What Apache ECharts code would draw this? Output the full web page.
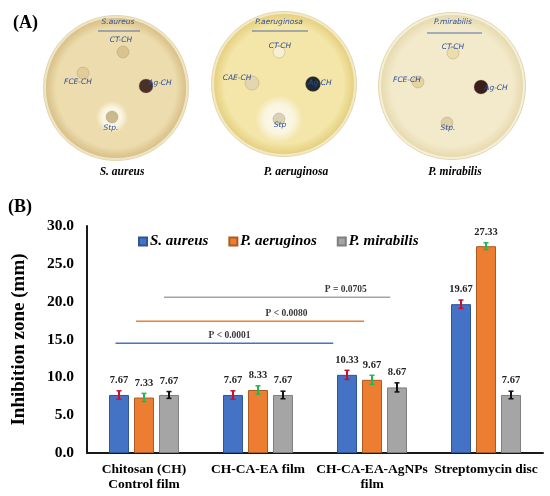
<!DOCTYPE html>
<html>
<head>
<meta charset="utf-8">
<script src="https://cdn.jsdelivr.net/npm/echarts@6.0.0/dist/echarts.min.js"></script>
<style>body{margin:0;background:#fff;}</style>
</head>
<body>
<div id="main" style="width:550px;height:496px;"></div>
<script type="text/javascript">

// ---- data ----
var categories = ['Chitosan (CH)\nControl film', 'CH-CA-EA film', 'CH-CA-EA-AgNPs\nfilm', 'Streptomycin disc'];
var seriesNames = ['S. aureus', 'P. aeruginos', 'P. mirabilis'];
var saureus = [7.67, 7.67, 10.33, 19.67];
var paeruginos = [7.33, 8.33, 9.67, 27.33];
var pmirabilis = [7.67, 7.67, 8.67, 7.67];
var saureusErr = [0.55, 0.55, 0.6, 0.55];
var paeruginosErr = [0.55, 0.55, 0.6, 0.45];
var pmirabilisErr = [0.45, 0.5, 0.6, 0.5];

// significance bars (x on a 0..4 scale across the categories, y in mm)
var sigLabels = ['P < 0.0001', 'P < 0.0080', 'P = 0.0705'];
var sigStart = [0.25, 0.43, 0.675];
var sigEnd = [2.16, 2.43, 2.66];
var sigLevel = [14.5, 17.4, 20.6];
var sigTextAt = [1.25, 1.75, 2.27];

var dishNames = ['S. aureus', 'P. aeruginosa', 'P. mirabilis'];

var serif = '"Liberation Serif", "Times New Roman", serif';
var colors = ['#4472C4', '#ED7D31', '#A5A5A5'];
var borders = ['#2F5597', '#AE5A21', '#7F7F7F'];
var errColors = ['#C8102E', '#1DB954', '#111111'];
var sigColors = ['#4472C4', '#ED7D31', '#A5A5A5'];
var catGap = 0.386, barGap = 0.25;

function errorSeries(k, vals, errs) {
    return {
        type: 'custom',
        xAxisIndex: 0,
        yAxisIndex: 0,
        z: 5,
        silent: true,
        data: vals.map(function (v, i) { return [i, v, errs[i]]; }),
        renderItem: function (params, api) {
            var i = api.value(0), v = api.value(1), e = api.value(2);
            var band = api.size([1, 0])[0];
            var barW = band * (1 - catGap) / (3 + 2 * barGap);
            var off = (k - 1) * barW * (1 + barGap);
            var top = api.coord([i, v + e]);
            var bot = api.coord([i, v - e]);
            var x = top[0] + off;
            var c = errColors[k];
            return {
                type: 'group',
                children: [
                    {type: 'line', shape: {x1: x, y1: top[1], x2: x, y2: bot[1]}, style: {stroke: c, lineWidth: 2}},
                    {type: 'line', shape: {x1: x - 2.5, y1: top[1], x2: x + 2.5, y2: top[1]}, style: {stroke: c, lineWidth: 1.5}},
                    {type: 'line', shape: {x1: x - 2.5, y1: bot[1], x2: x + 2.5, y2: bot[1]}, style: {stroke: c, lineWidth: 1.5}},
                    {type: 'text', x: x, y: top[1] - 5, style: {
                        text: v.toFixed(2), align: 'center', verticalAlign: 'bottom',
                        font: 'bold 10.5px ' + serif, fill: '#222'}}
                ]
            };
        }
    };
}

function barSeries(k, vals) {
    return {
        name: seriesNames[k],
        type: 'bar',
        xAxisIndex: 0,
        yAxisIndex: 0,
        barGap: (barGap * 100) + '%',
        barCategoryGap: (catGap * 100) + '%',
        itemStyle: {color: colors[k], borderColor: borders[k], borderWidth: 1},
        data: vals
    };
}

// ---- panel (A): drawn petri dishes ----
var dishes = [
    {cx: 116, cy: 88, r: 71, c0: '#EDDDAE', c1: '#D9C088', rim: '#EFE4C4',
     wells: [[123, 52, 6, 'rgba(200,175,120,0.55)'], [83, 73, 6, 'rgba(215,190,130,0.5)'],
             [146, 86, 7, '#4B3027'], [112, 117, 6, 'rgba(190,170,120,0.8)']],
     halo: [112, 117, 16],
     notes: [['S.aureus', 118, 22], ['CT-CH', 121, 40], ['FCE-CH', 78, 82], ['Ag-CH', 160, 83], ['Stp.', 111, 128]],
     line: [98, 31, 140]},
    {cx: 284, cy: 84, r: 71, c0: '#F3E6A8', c1: '#E6D080', rim: '#F3EAC4',
     wells: [[279, 52, 6, 'rgba(245,240,215,0.9)'], [252, 83, 7, '#E4D6B0'],
             [313, 84, 7.5, '#1E2A2C'], [279, 119, 6, 'rgba(215,205,175,0.9)']],
     halo: [279, 119, 24],
     notes: [['P.aeruginosa', 279, 22], ['CT-CH', 280, 46], ['CAE-CH', 237, 78], ['Ag-CH', 320, 83], ['Stp', 280, 125]],
     line: [252, 31, 308]},
    {cx: 452, cy: 86, r: 72, c0: '#F3EACB', c1: '#E6DAAE', rim: '#F5EFDA',
     wells: [[453, 53, 6, 'rgba(235,220,170,0.9)'], [418, 82, 6, 'rgba(225,205,150,0.8)'],
             [481, 87, 7, '#3A1E1A'], [447, 123, 6, 'rgba(220,205,160,0.9)']],
     halo: null,
     notes: [['P.mirabilis', 453, 22], ['CT-CH', 453, 47], ['FCE-CH', 407, 80], ['Ag-CH', 496, 88], ['Stp.', 448, 128]],
     line: [427, 33, 482]}
];

var graphics = [];
dishes.forEach(function (d) {
    graphics.push({type: 'circle', shape: {cx: d.cx, cy: d.cy, r: d.r + 1.5}, style: {fill: d.rim, stroke: '#E3D6AE', lineWidth: 1}, z: 1});
    graphics.push({type: 'circle', shape: {cx: d.cx, cy: d.cy, r: d.r - 1},
        style: {fill: new echarts.graphic.RadialGradient(0.5, 0.5, 0.5, [
            {offset: 0, color: d.c0}, {offset: 0.85, color: d.c0}, {offset: 1, color: d.c1}])}, z: 2});
    if (d.halo) {
        graphics.push({type: 'circle', shape: {cx: d.halo[0], cy: d.halo[1], r: d.halo[2]},
            style: {fill: new echarts.graphic.RadialGradient(0.5, 0.5, 0.5, [
                {offset: 0, color: 'rgba(252,250,238,1)'}, {offset: 0.6, color: 'rgba(250,246,228,0.95)'},
                {offset: 1, color: 'rgba(250,246,228,0)'}])}, z: 3});
    }
    d.wells.forEach(function (w) {
        graphics.push({type: 'circle', shape: {cx: w[0], cy: w[1], r: w[2]},
            style: {fill: w[3], stroke: 'rgba(150,120,80,0.35)', lineWidth: 0.8}, z: 4});
    });
    d.notes.forEach(function (n) {
        graphics.push({type: 'text', x: n[1], y: n[2], z: 5,
            style: {text: n[0], align: 'center', verticalAlign: 'middle',
                font: 'italic 7.5px "DejaVu Sans", sans-serif', fill: '#2E4F9E'}});
    });
    graphics.push({type: 'line', shape: {x1: d.line[0], y1: d.line[1], x2: d.line[2], y2: d.line[1]},
        style: {stroke: '#2E4F9E', lineWidth: 0.8}, z: 5});
});

var captionX = [122, 296, 455];
dishNames.forEach(function (name, i) {
    graphics.push({type: 'text', x: captionX[i], y: 172,
        style: {text: name, align: 'center', verticalAlign: 'middle',
            font: 'italic bold 11.5px ' + serif, fill: '#000'}});
});
graphics.push({type: 'text', x: 13, y: 23, style: {text: '(A)', verticalAlign: 'middle', font: 'bold 18px ' + serif, fill: '#000'}});
graphics.push({type: 'text', x: 8, y: 207, style: {text: '(B)', verticalAlign: 'middle', font: 'bold 18px ' + serif, fill: '#000'}});

// ---- significance bracket data ----
var sigSeries = sigLabels.map(function (lab, i) {
    return {
        type: 'line',
        xAxisIndex: 1,
        yAxisIndex: 0,
        symbol: 'none',
        silent: true,
        lineStyle: {color: sigColors[i], width: 1.5},
        data: [[sigStart[i], sigLevel[i]], [sigEnd[i], sigLevel[i]]]
    };
});
var sigText = {
    type: 'scatter',
    xAxisIndex: 1,
    yAxisIndex: 0,
    symbolSize: 1,
    silent: true,
    itemStyle: {color: 'rgba(0,0,0,0)'},
    label: {
        show: true, position: 'top', distance: 2,
        formatter: function (p) { return sigLabels[p.dataIndex]; },
        fontFamily: serif, fontWeight: 'bold', fontSize: 9.5, color: '#000'
    },
    data: sigTextAt.map(function (x, i) { return [x, sigLevel[i]]; })
};

var option = {
    animation: false,
    graphic: graphics,
    legend: {
        data: seriesNames,
        left: 133,
        top: 229,
        icon: 'rect',
        itemWidth: 8,
        itemHeight: 8,
        itemGap: 20,
        textStyle: {fontFamily: serif, fontStyle: 'italic', fontWeight: 'bold', fontSize: 15, color: '#000', padding: [0, 0, 0, -2]}
    },
    grid: {left: 87, right: 7, top: 226, bottom: 43},
    xAxis: [{
        type: 'category',
        data: categories,
        axisLine: {lineStyle: {color: '#1a1a1a', width: 2}},
        axisTick: {show: false},
        axisLabel: {interval: 0, margin: 9, color: '#000', fontFamily: serif, fontWeight: 'bold', fontSize: 13.5, lineHeight: 15}
    }, {
        type: 'value',
        min: 0,
        max: 4,
        show: false
    }],
    yAxis: {
        type: 'value',
        min: 0,
        max: 30,
        interval: 5,
        name: 'Inhibition zone (mm)',
        nameLocation: 'middle',
        nameGap: 58,
        nameTextStyle: {fontFamily: serif, fontWeight: 'bold', fontSize: 19, color: '#000'},
        axisLine: {show: true, lineStyle: {color: '#1a1a1a', width: 2}},
        axisTick: {show: false},
        splitLine: {show: false},
        axisLabel: {
            margin: 13, color: '#000', fontFamily: serif, fontWeight: 'bold', fontSize: 15.5,
            formatter: function (v) { return v.toFixed(1); }
        }
    },
    series: [
        barSeries(0, saureus),
        barSeries(1, paeruginos),
        barSeries(2, pmirabilis),
        errorSeries(0, saureus, saureusErr),
        errorSeries(1, paeruginos, paeruginosErr),
        errorSeries(2, pmirabilis, pmirabilisErr)
    ].concat(sigSeries).concat([sigText])
};

var myChart = echarts.init(document.getElementById('main'));
myChart.setOption(option);
</script>
</body>
</html>
